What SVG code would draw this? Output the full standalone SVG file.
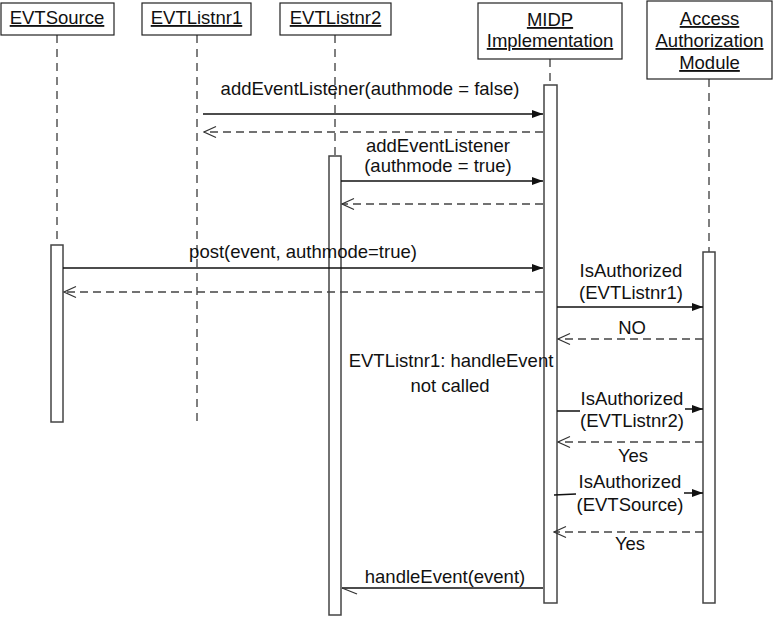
<svg xmlns="http://www.w3.org/2000/svg" width="773" height="617" viewBox="0 0 773 617">
<style>
text{font-family:"Liberation Sans",Arial,sans-serif;font-size:18.5px;fill:#111;text-anchor:middle}
.u{text-decoration:underline}
.box{fill:#fff;stroke:#222;stroke-width:1.2}
.bar{fill:#fff;stroke:#444;stroke-width:1.5}
.life{stroke:#555;stroke-width:1.5;stroke-dasharray:8 6;fill:none}
.msg{stroke:#111;stroke-width:1.3;fill:none}
.ret{stroke:#444;stroke-width:1.3;stroke-dasharray:8 5;fill:none}
</style>
<defs>
<marker id="fill" markerWidth="12" markerHeight="10" refX="11" refY="5" orient="auto" markerUnits="userSpaceOnUse"><path d="M0,1 L11,5 L0,9 Z" fill="#111"/></marker>
<marker id="open" markerWidth="14" markerHeight="14" refX="13" refY="7" orient="auto" markerUnits="userSpaceOnUse"><path d="M1,1.5 L13,7 L1,12.5" fill="none" stroke="#333" stroke-width="1.2"/></marker>
<marker id="half" markerWidth="18" markerHeight="14" refX="16" refY="8" orient="auto" markerUnits="userSpaceOnUse"><path d="M16,8 L1,2" fill="none" stroke="#333" stroke-width="1.2"/></marker>
</defs>
<rect width="773" height="617" fill="#fff"/>
<g id="lifelines">
<line class="life" x1="57" y1="35" x2="57" y2="245"/>
<line class="life" x1="197" y1="35" x2="197" y2="422"/>
<line class="life" x1="335" y1="35" x2="335" y2="156"/>
<line class="life" x1="550" y1="59" x2="550" y2="85"/>
<line class="life" x1="709" y1="79" x2="709" y2="252"/>
</g>
<g id="EVTSource">
<rect class="box" x="1" y="3" width="113" height="32"/>
<text class="u" x="57" y="24">EVTSource</text>
<rect class="bar" x="51" y="245" width="12" height="177"/>
</g>
<g id="EVTListnr1">
<rect class="box" x="142" y="3" width="109" height="32"/>
<text class="u" x="196.5" y="24">EVTListnr1</text>
</g>
<g id="EVTListnr2">
<rect class="box" x="280" y="3" width="111" height="32"/>
<text class="u" x="335.5" y="24">EVTListnr2</text>
<rect class="bar" x="329" y="156" width="12" height="459"/>
</g>
<g id="MIDP">
<rect class="box" x="478" y="3" width="144" height="56"/>
<text class="u" x="550" y="26">MIDP</text>
<text class="u" x="550" y="47">Implementation</text>
<rect class="bar" x="544" y="85" width="13" height="518"/>
</g>
<g id="AccessAuthorizationModule">
<rect class="box" x="647" y="1" width="125" height="78"/>
<text class="u" x="709.5" y="25">Access</text>
<text class="u" x="709.5" y="47">Authorization</text>
<text class="u" x="709.5" y="69">Module</text>
<rect class="bar" x="703" y="252" width="12" height="351"/>
</g>
<g id="connectors">
<line class="msg" x1="203" y1="114" x2="543" y2="114" marker-end="url(#fill)"/>
<line class="ret" x1="543" y1="132" x2="204" y2="132" marker-end="url(#open)"/>
<line class="msg" x1="341" y1="181" x2="543" y2="181" marker-end="url(#fill)"/>
<line class="ret" x1="543" y1="204" x2="342" y2="204" marker-end="url(#open)"/>
<line class="msg" x1="63" y1="268" x2="543" y2="268" marker-end="url(#fill)"/>
<line class="ret" x1="543" y1="292" x2="64" y2="292" marker-end="url(#open)"/>
<line class="msg" x1="557" y1="307" x2="703" y2="307" marker-end="url(#fill)"/>
<line class="ret" x1="703" y1="339" x2="558" y2="339" marker-end="url(#open)"/>
<path class="msg" d="M557,411 L580,411 M685,409 L703,409" marker-end="url(#fill)"/>
<line class="ret" x1="703" y1="442" x2="558" y2="442" marker-end="url(#open)"/>
<path class="msg" d="M554,495 L576,494 M684,493 L703,493" marker-end="url(#fill)"/>
<line class="ret" x1="703" y1="532" x2="554" y2="532" marker-end="url(#open)"/>
<line class="msg" x1="543" y1="588" x2="342" y2="588" marker-end="url(#half)"/>
</g>
<g id="labels">
<text x="370" y="95">addEventListener(authmode = false)</text>
<text x="438" y="152">addEventListener</text>
<text x="438" y="172">(authmode = true)</text>
<text x="303" y="258">post(event, authmode=true)</text>
<text x="631" y="277">IsAuthorized</text>
<text x="631" y="299">(EVTListnr1)</text>
<text x="632" y="334">NO</text>
<text x="451" y="367">EVTListnr1: handleEvent</text>
<text x="450" y="392">not called</text>
<text x="632" y="405">IsAuthorized</text>
<text x="632" y="427">(EVTListnr2)</text>
<text x="633" y="462">Yes</text>
<text x="630" y="488">IsAuthorized</text>
<text x="630" y="511">(EVTSource)</text>
<text x="630" y="550">Yes</text>
<text x="445" y="583">handleEvent(event)</text>
</g>
</svg>
